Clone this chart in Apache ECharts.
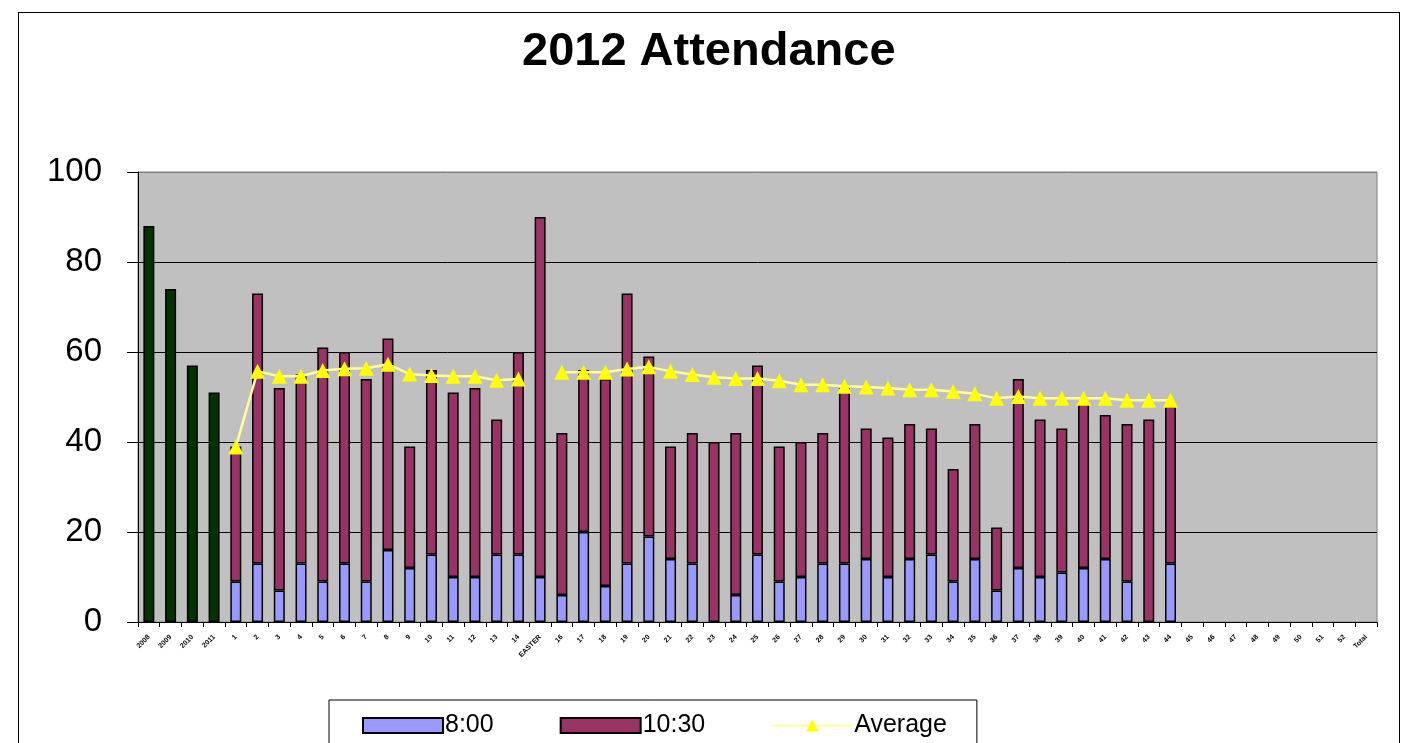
<!DOCTYPE html>
<html>
<head>
<meta charset="utf-8">
<title>2012 Attendance</title>
<script src="https://cdn.jsdelivr.net/npm/echarts@6/dist/echarts.min.js"></script>
<style>
  html, body { margin: 0; padding: 0; background: #fff; }
  #wrap { position: relative; width: 1407px; height: 743px; overflow: hidden; }
  #chart { width: 1407px; height: 743px; }
  #frame { position: absolute; left: 18px; top: 12px; width: 1380px; height: 760px; border: 1px solid #000; pointer-events: none; }
</style>
</head>
<body>
<div id="wrap">
  <div id="chart"></div>
  <div id="frame"></div>
</div>
<script>
// x categories: 4 prior years, then week numbers (week 15 was Easter)
var years = ['2008', '2009', '2010', '2011']
var weeks = ['1', '2', '3', '4', '5', '6', '7', '8', '9', '10', '11', '12', '13', '14', 'EASTER',
  '16', '17', '18', '19', '20', '21', '22', '23', '24', '25', '26', '27', '28', '29', '30',
  '31', '32', '33', '34', '35', '36', '37', '38', '39', '40', '41', '42', '43', '44', '45',
  '46', '47', '48', '49', '50', '51', '52', 'Total']

// prior years (green bars)
var priorYears = [88, 74, 57, 51]

// weekly attendance, weeks 1..44
var service800 = [9, 13, 7, 13, 9, 13, 9, 16, 12, 15, 10, 10, 15, 15, 10, 6, 20, 8, 13, 19,
  14, 13, null, 6, 15, 9, 10, 13, 13, 14, 10, 14, 15, 9, 14, 7, 12, 10, 11, 12, 14, 9, null, 13]
var service1030 = [30, 60, 45, 42, 52, 47, 45, 47, 27, 41, 41, 42, 30, 45, 80, 36, 36, 46, 60, 40,
  25, 29, 40, 36, 42, 30, 30, 29, 39, 29, 31, 30, 28, 25, 30, 14, 42, 35, 32, 37, 32, 35, 45, 35]
var average = [38.9, 55.7, 54.6, 54.6, 55.9, 56.3, 56.4, 57.3, 55.1, 54.8, 54.6, 54.6, 53.7, 54.0, null,
  55.5, 55.5, 55.5, 56.2, 56.7, 55.7, 55.0, 54.4, 54.1, 54.1, 53.6, 52.7, 52.7, 52.4, 52.2,
  52.0, 51.6, 51.6, 51.2, 50.7, 49.7, 50.1, 49.7, 49.7, 49.7, 49.7, 49.3, 49.3, 49.3]

var yTicks = [0, 20, 40, 60, 80, 100]

var categories = years.concat(weeks)

function blanks(n) {
  var out = []
  for (var i = 0; i < n; i++) out.push(null)
  return out
}

// line the weekly arrays up after the prior-year columns
function weekly(arr) {
  return blanks(years.length).concat(arr).concat(blanks(categories.length - years.length - arr.length))
}

var font = "'Liberation Sans', Arial, sans-serif"
var barBorder = { borderColor: '#000', borderWidth: 1.5 }

var chart = echarts.init(document.getElementById('chart'))
chart.setOption({
  backgroundColor: '#fff',
  animation: false,
  title: {
    text: '2012 Attendance',
    left: 517,
    top: 24,
    textStyle: { fontFamily: font, fontSize: 47, fontWeight: 'bold', color: '#000' }
  },
  grid: {
    left: 138,
    right: 30,
    top: 172,
    bottom: 121,
    show: true,
    backgroundColor: '#c0c0c0',
    borderColor: '#808080',
    borderWidth: 1
  },
  legend: {
    data: [
      { name: '8:00', icon: 'rect' },
      { name: '10:30', icon: 'rect' },
      { name: 'Average' }
    ],
    left: 329,
    top: 700,
    padding: [13, 30, 30, 33],
    itemWidth: 80,
    itemHeight: 15,
    itemGap: 66,
    borderColor: '#000',
    borderWidth: 1,
    backgroundColor: '#fff',
    textStyle: { fontFamily: font, fontSize: 25, color: '#000', padding: [0, 0, 0, -3] }
  },
  xAxis: {
    type: 'category',
    data: categories,
    axisLine: { lineStyle: { color: '#000', width: 1 } },
    axisTick: { show: true, interval: 0, length: 5, lineStyle: { color: '#000' } },
    axisLabel: {
      interval: 0,
      rotate: 45,
      margin: 14,
      fontFamily: font,
      fontSize: 7,
      fontWeight: 'bold',
      color: '#000'
    },
    splitLine: { show: false }
  },
  yAxis: {
    type: 'value',
    min: yTicks[0],
    max: yTicks[yTicks.length - 1],
    interval: 20,
    axisLine: { show: true, lineStyle: { color: '#000', width: 1 } },
    axisTick: { show: true, length: 11, lineStyle: { color: '#000' } },
    axisLabel: { margin: 36, fontFamily: font, fontSize: 33, color: '#000' },
    splitLine: { show: true, lineStyle: { color: ['#000', '#000', '#000', '#000', '#000', '#808080'], width: 1 } }
  },
  series: [
    {
      name: 'Prior',
      type: 'bar',
      stack: 'att',
      barWidth: 11,
      data: priorYears.concat(blanks(categories.length - priorYears.length)),
      itemStyle: Object.assign({ color: '#003300' }, barBorder)
    },
    {
      name: '8:00',
      type: 'bar',
      stack: 'att',
      barWidth: 11,
      data: weekly(service800),
      itemStyle: Object.assign({ color: '#9999ff' }, barBorder)
    },
    {
      name: '10:30',
      type: 'bar',
      stack: 'att',
      barWidth: 11,
      data: weekly(service1030),
      itemStyle: Object.assign({ color: '#993366' }, barBorder)
    },
    {
      name: 'Average',
      type: 'line',
      data: weekly(average),
      connectNulls: false,
      symbol: 'triangle',
      symbolSize: 15,
      z: 5,
      lineStyle: { color: '#ffff99', width: 2.5 },
      itemStyle: { color: '#ffff00' }
    }
  ]
})
</script>
</body>
</html>
